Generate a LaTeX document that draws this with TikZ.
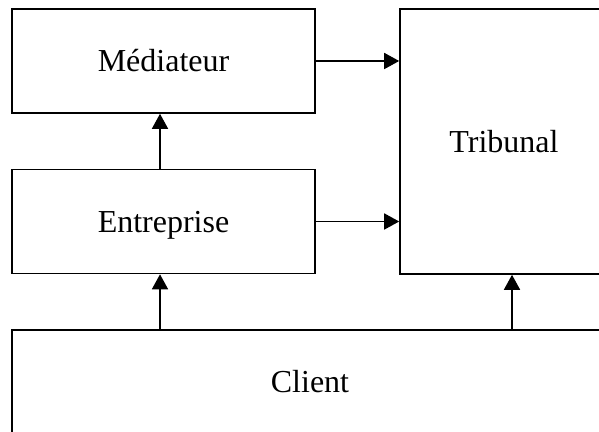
\documentclass[tikz,border=0pt]{standalone}
\usepackage{fontspec}
\setmainfont{Liberation Serif}
\usetikzlibrary{arrows.meta}
\tikzset{
  boxnode/.style={draw=black, line width=0.8pt, rectangle, inner sep=0pt, font=\fontsize{16}{19}\selectfont},
  arr/.style={draw=black, line width=0.8pt, -{Triangle[length=7.5pt,width=8pt]}}
}
\begin{document}
\begin{tikzpicture}[x=0.5pt,y=-0.5pt]
\useasboundingbox (0,0) rectangle (599,432);
\clip (0,0) rectangle (599,432);
\node[boxnode, minimum width=151.5pt, minimum height=52pt] (mediateur) at (163.5,61) {Médiateur};
\node[boxnode, minimum width=151.5pt, minimum height=52pt] (entreprise) at (163.5,221.5) {\raisebox{-2pt}[\height][\depth]{Entreprise}};
\node[boxnode, minimum width=104pt, minimum height=132.5pt] (tribunal) at (504,141.5) {Tribunal};
\node[boxnode, minimum width=298pt, minimum height=52pt] (client) at (310,382) {Client};
\coordinate (xa) at (160,0);
\coordinate (xb) at (512,0);
\draw[arr] (mediateur.east) -- (mediateur.east -| tribunal.west);
\draw[arr] (entreprise.east) -- (entreprise.east -| tribunal.west);
\draw[arr] (entreprise.north -| xa) -- (mediateur.south -| xa);
\draw[arr] (client.north -| xa) -- (entreprise.south -| xa);
\draw[arr] (client.north -| xb) -- (tribunal.south -| xb);
\end{tikzpicture}
\end{document}
